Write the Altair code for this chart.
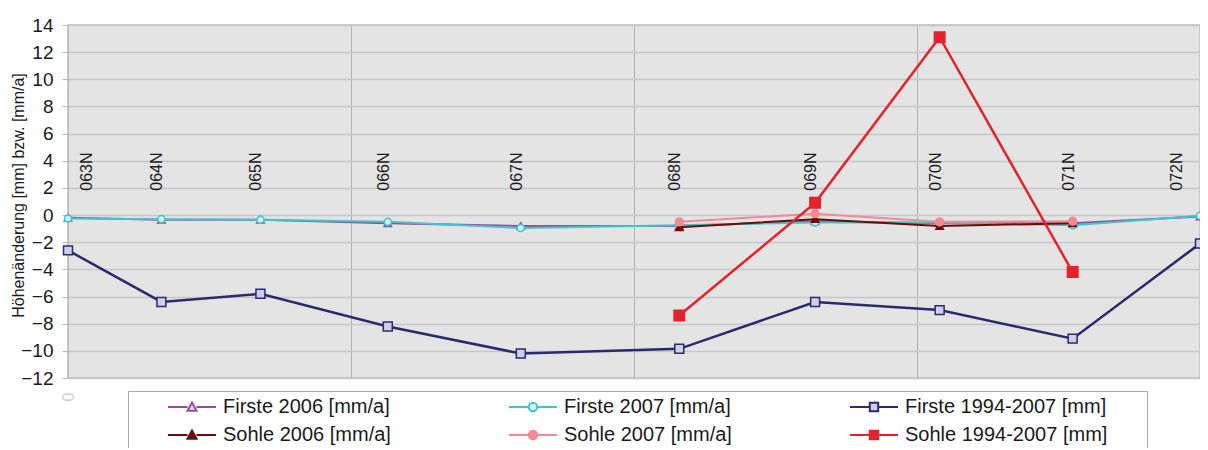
import altair as alt
import pandas as pd

# ---------------- data ----------------
stations = ["063N", "064N", "065N", "066N", "067N", "068N", "069N", "070N", "071N", "072N"]
positions = [0, 33, 68, 113, 160, 216, 264, 308, 355, 400]

firste_2006 = [-0.2, -0.35, -0.35, -0.6, -0.8, -0.8, -0.45, -0.6, -0.6, -0.1]
firste_2007 = [-0.25, -0.3, -0.35, -0.5, -0.95, -0.75, -0.55, -0.55, -0.75, -0.05]
firste_9407 = [-2.6, -6.4, -5.8, -8.2, -10.2, -9.85, -6.4, -7.0, -9.1, -2.1]
sohle_2006 = [None, None, None, None, None, -0.9, -0.3, -0.8, -0.6, None]
sohle_2007 = [None, None, None, None, None, -0.5, 0.1, -0.5, -0.45, None]
sohle_9407 = [None, None, None, None, None, -7.4, 0.9, 13.1, -4.2, None]

label_level = 3.2

series_names = [
    "Firste 2006 [mm/a]", "Firste 2007 [mm/a]", "Firste 1994-2007 [mm]",
    "Sohle 2006 [mm/a]", "Sohle 2007 [mm/a]", "Sohle 1994-2007 [mm]",
]
series_values = [firste_2006, firste_2007, firste_9407, sohle_2006, sohle_2007, sohle_9407]

# ---------------- styles ----------------
stroke_colors = ["#9b4a9e", "#3ec6cf", "#2b2a70", "#6e0c0c", "#f28a92", "#e3232b"]
fill_colors = ["#e9d8ee", "#d6f1f3", "#cfcfe9", "#6e0c0c", "#f28a92", "#e3232b"]
marker_shapes = ["triangle-up", "circle", "square", "triangle-up", "circle", "square"]
marker_sizes = [55, 50, 80, 55, 60, 110]
line_widths = [2, 2, 2.5, 2, 2, 2.5]

tri = "M-2.4,0H-0.45M0.45,0H2.4M0,-0.45L0.45,0.38H-0.45Z"
cir = "M-2.4,0H-0.42M0.42,0H2.4M0.42,0A0.42,0.42,0,1,1,-0.42,0A0.42,0.42,0,1,1,0.42,0Z"
sq = "M-2.4,0H-0.42M0.42,0H2.4M-0.42,-0.42H0.42V0.42H-0.42Z"
legend_paths = [tri, cir, sq, tri, cir, sq]

rows = []
for name, vals in zip(series_names, series_values):
    for st, pos, v in zip(stations, positions, vals):
        if v is not None:
            rows.append({"station": st, "pos": pos, "series": name, "value": v})
df = pd.DataFrame(rows)
labels_df = pd.DataFrame({"station": stations, "pos": positions,
                          "value": [label_level] * len(stations)})

FONT = "Liberation Sans"

# legend fills column by column: order entries so rows read Firste ... / Sohle ...
legend_order = [0, 3, 1, 4, 2, 5]
leg_domain = [series_names[k] for k in legend_order]

x_scale = alt.Scale(domain=[0, 400], nice=False, zero=False)
y_scale = alt.Scale(domain=[-12, 14], nice=False, zero=False)
stroke_scale = alt.Scale(domain=leg_domain, range=[stroke_colors[k] for k in legend_order])
fill_scale = alt.Scale(domain=leg_domain, range=[fill_colors[k] for k in legend_order])
shape_scale = alt.Scale(domain=leg_domain, range=[legend_paths[k] for k in legend_order])

x_enc = alt.X("pos:Q", scale=x_scale, axis=alt.Axis(
    values=[0, 100, 200, 300, 400], grid=True, gridColor="#b2b2b2", gridWidth=1,
    domain=False, ticks=False, labelExpr="datum.value == 0 ? '0' : ''",
    labelAngle=270, labelColor="#d0d0d0", labelFontSize=16, labelFont=FONT,
    labelPadding=14, title=None))
y_enc = alt.Y("value:Q", scale=y_scale, axis=alt.Axis(
    values=list(range(-12, 15, 2)), grid=True, gridColor="#c6c6c6", gridWidth=1.5,
    domain=True, domainColor="#b8b8b8", ticks=True, tickSize=6, tickColor="#b8b8b8",
    labelFontSize=19, labelFont=FONT, labelColor="#1a1a1a", labelPadding=9,
    title="Höhenänderung [mm] bzw. [mm/a]", titleFont=FONT, titleFontSize=16,
    titleFontWeight="normal", titleColor="#1a1a1a", titleX=-42, titleY=170,
    titleAngle=270, titleBaseline="bottom", titleAlign="center"))

layers = []
for i, name in enumerate(series_names):
    base = alt.Chart(df).transform_filter(alt.datum.series == name)
    layers.append(base.mark_line(strokeWidth=line_widths[i], color=stroke_colors[i]).encode(
        x=x_enc, y=y_enc))
    layers.append(base.mark_point(shape=marker_shapes[i], filled=True, size=marker_sizes[i],
                                  strokeWidth=1.5, opacity=1, fill=fill_colors[i],
                                  stroke=stroke_colors[i]).encode(x=x_enc, y=y_enc))

legend = alt.Legend(
    title="\u00a0", titleOrient="right", titlePadding=35, titleFontSize=20,
    orient="none", legendX=60, legendY=366, columns=3,
    symbolSize=400, symbolStrokeWidth=2, symbolOffset=48,
    labelOffset=20, labelFont=FONT, labelFontSize=20, labelColor="#1a1a1a",
    labelLimit=400, columnPadding=83, rowPadding=7, padding=5,
    strokeColor="#a8a8a8", fillColor="#ffffff")

legend_layer = alt.Chart(df).transform_filter("false").mark_point(
    filled=True, opacity=1, strokeWidth=2).encode(
    x=x_enc, y=y_enc,
    stroke=alt.Stroke("series:N", scale=stroke_scale, legend=legend),
    fill=alt.Fill("series:N", scale=fill_scale, legend=legend),
    shape=alt.Shape("series:N", scale=shape_scale, legend=legend))

text_kw = dict(angle=270, fontSize=16, font=FONT, color="#1a1a1a",
               baseline="middle", align="center")
text_base = alt.Chart(labels_df)
first_lbl = text_base.transform_filter(alt.datum.station == stations[0]).mark_text(
    dy=19, **text_kw).encode(x=x_enc, y=y_enc, text="station:N")
last_lbl = text_base.transform_filter(alt.datum.station == stations[-1]).mark_text(
    dy=-23, **text_kw).encode(x=x_enc, y=y_enc, text="station:N")
mid_lbl = text_base.transform_filter(
    (alt.datum.station != stations[0]) & (alt.datum.station != stations[-1])).mark_text(
    dy=-4, **text_kw).encode(x=x_enc, y=y_enc, text="station:N")

chart = alt.layer(first_lbl, mid_lbl, last_lbl, *layers, legend_layer).properties(
    width=1132, height=353,
    autosize=alt.AutoSizeParams(type="none"),
    padding={"left": 60, "top": 17, "right": 0, "bottom": 70},
).configure_view(fill="#e4e4e4", stroke="#bcbcbc", strokeWidth=1.5)

chart.save("out.html", embed_options={"renderer": "svg", "actions": False})
